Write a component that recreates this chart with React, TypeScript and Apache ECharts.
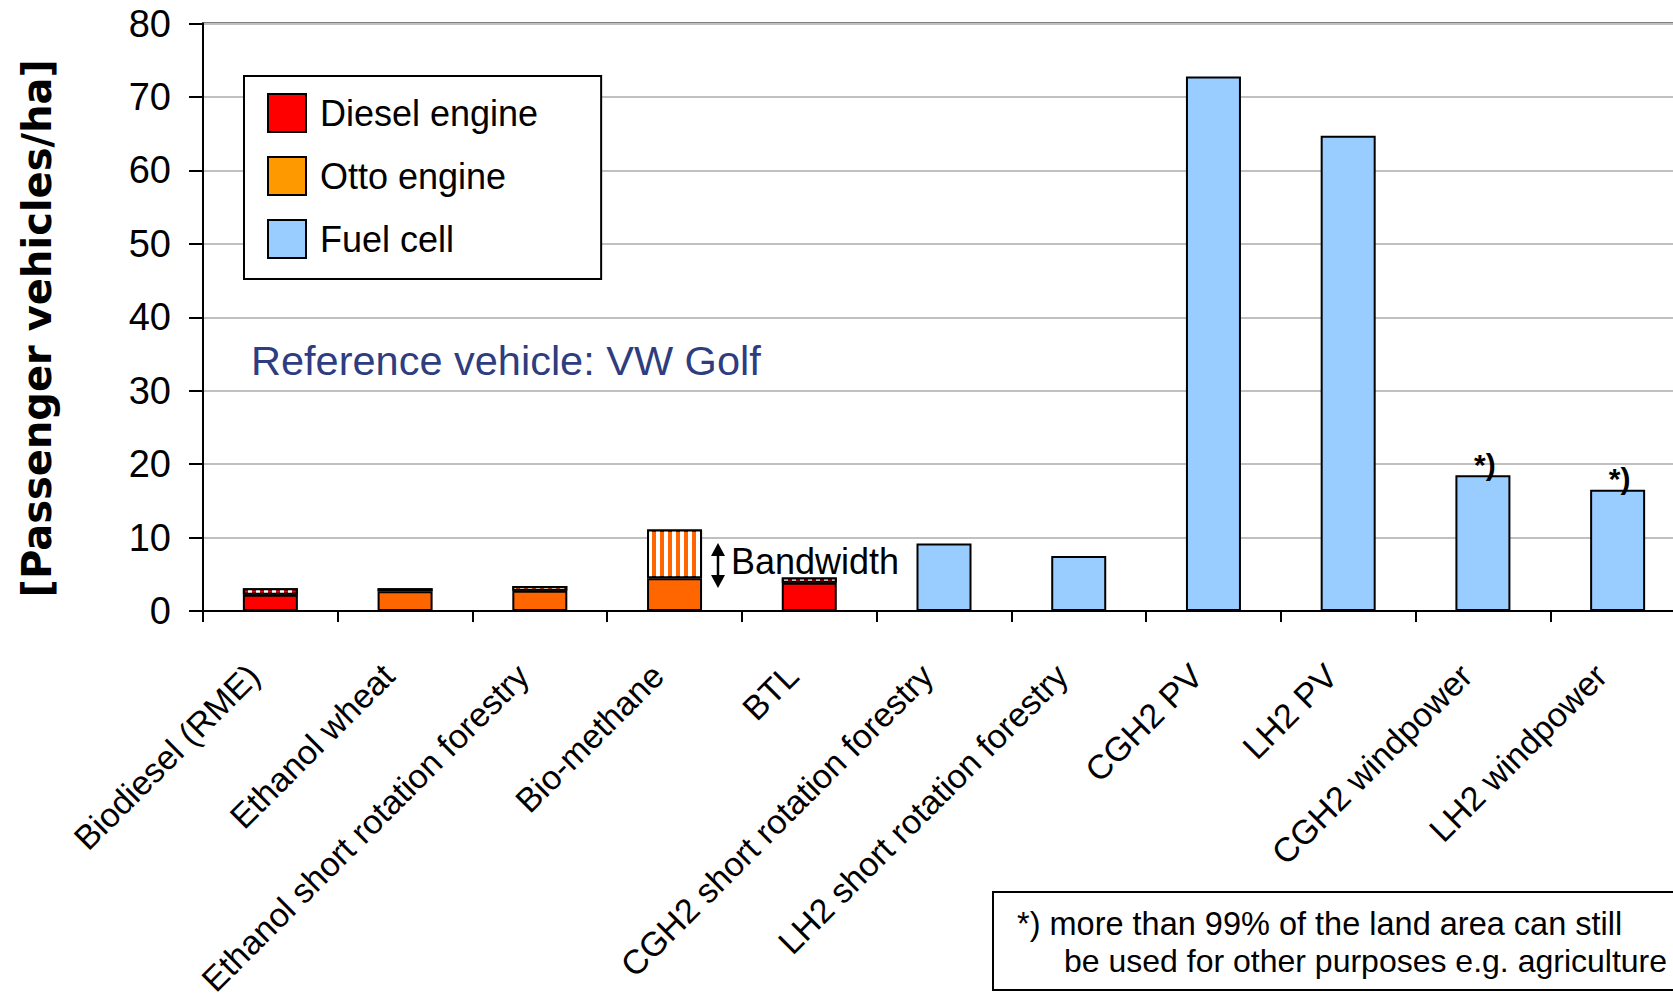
import React, { useEffect, useRef } from "react";
import * as echarts from "echarts";

const categories = [
  "Biodiesel (RME)",
  "Ethanol wheat",
  "Ethanol short rotation forestry",
  "Bio-methane",
  "BTL",
  "CGH2 short rotation forestry",
  "LH2 short rotation forestry",
  "CGH2 PV",
  "LH2 PV",
  "CGH2 windpower",
  "LH2 windpower",
];

const dieselBase = [2.2, null, null, null, 3.85, null, null, null, null, null, null];
const ottoBase = [null, 2.7, 2.75, 4.45, null, null, null, null, null, null, null];
const fuelCell = [null, null, null, null, null, 9.2, 7.5, 72.8, 64.7, 18.5, 16.5];
const dieselBand = [0.9, null, null, null, 0.7, null, null, null, null, null, null];
const ottoBand = [null, 0.4, 0.65, 6.65, null, null, null, null, null, null, null];
const footnoteIdx = [9, 10];

const yTicks = { min: 0, max: 80, interval: 10 };

const FONT = "'Liberation Sans', Arial, sans-serif";

export default function App() {
  const ref = useRef<HTMLDivElement>(null);
  useEffect(() => {
    document.body.style.margin = "0";
    if (!ref.current) return;
    const chart = echarts.init(ref.current, undefined, { renderer: "svg" });
    const border = { borderColor: "#000", borderWidth: 2 };
    const stripe = {
      symbol: "rect",
      symbolSize: 1,
      dashArrayX: [3.5, 3.5],
      dashArrayY: [10, 0],
      color: "#ffffff",
      rotation: 0,
    };
    const fuelData = fuelCell.map((v, i) =>
      footnoteIdx.includes(i)
        ? {
            value: v,
            label: {
              show: true,
              formatter: "*)",
              position: "top",
              distance: 0,
              offset: [2, 4],
              fontSize: 30,
              fontWeight: "bold",
              color: "#000",
              fontFamily: FONT,
            },
          }
        : v
    );
    const option: any = {
      animation: false,
      backgroundColor: "#fff",
      grid: {
        left: 203,
        top: 23.5,
        right: -12,
        bottom: 391,
        show: true,
        borderColor: "#000",
        borderWidth: 2,
        backgroundColor: "transparent",
        containLabel: false,
        outerBoundsMode: "none",
      },
      legend: {
        data: [
          { name: "Diesel engine", itemStyle: { color: "#FF0000", ...border } },
          { name: "Otto engine", itemStyle: { color: "#FF9900", ...border } },
          { name: "Fuel cell", itemStyle: { color: "#99CCFF", ...border } },
        ],
        orient: "vertical",
        left: 244,
        top: 76,
        itemWidth: 38,
        itemHeight: 38,
        itemGap: 23,
        padding: [17, 63, 20, 23],
        borderColor: "#000",
        borderWidth: 2,
        backgroundColor: "#fff",
        icon: "rect",
        selectedMode: false,
        textStyle: { fontSize: 36, color: "#000", fontFamily: FONT, padding: [0, 0, 0, 9] },
      },
      xAxis: {
        type: "category",
        data: categories,
        axisLine: { lineStyle: { color: "#000", width: 2 } },
        axisTick: { show: true, length: 11, interval: 0, lineStyle: { color: "#000", width: 2 } },
        axisLabel: {
          rotate: 45,
          interval: 0,
          fontSize: 34,
          margin: 42,
          padding: [0, 24, 0, 0],
          color: "#000",
          fontFamily: FONT,
        },
        splitLine: { show: false },
      },
      yAxis: {
        type: "value",
        min: yTicks.min,
        max: yTicks.max,
        interval: yTicks.interval,
        axisLine: { show: true, lineStyle: { color: "#000", width: 2 } },
        axisTick: { show: true, length: 14, lineStyle: { color: "#000", width: 2 } },
        axisLabel: { fontSize: 38, color: "#000", margin: 32, fontFamily: FONT },
        splitLine: { lineStyle: { color: "#C0C0C0", width: 2 } },
        name: "[Passenger vehicles/ha]",
        nameLocation: "middle",
        nameGap: 146,
        nameTextStyle: {
          fontSize: 40,
          fontWeight: "bold",
          fontFamily: "'DejaVu Sans', sans-serif",
          color: "#000",
          padding: [0, 22, 0, 0],
        },
      },
      series: [
        { name: "Diesel engine", type: "bar", stack: "a", barWidth: 55, data: dieselBase, itemStyle: { color: "#FF0000", ...border } },
        { name: "Otto engine", type: "bar", stack: "a", barWidth: 55, data: ottoBase, itemStyle: { color: "#FF6600", ...border } },
        { name: "Fuel cell", type: "bar", stack: "a", barWidth: 55, data: fuelData, itemStyle: { color: "#99CCFF", ...border } },
        { name: "Diesel bandwidth", type: "bar", stack: "a", barWidth: 55, data: dieselBand, itemStyle: { color: "#FF0000", ...border, decal: stripe } },
        { name: "Otto bandwidth", type: "bar", stack: "a", barWidth: 55, data: ottoBand, itemStyle: { color: "#FF6600", ...border, decal: stripe } },
      ],
      graphic: [
        {
          type: "text",
          left: 251,
          top: 339,
          style: { text: "Reference vehicle: VW Golf", fontSize: 41.5, fill: "#2E3D7F", fontFamily: FONT },
        },
        {
          type: "text",
          x: 731,
          y: 561,
          style: { text: "Bandwidth", fontSize: 36, fill: "#000", fontFamily: FONT, verticalAlign: "middle" },
        },
        { type: "line", shape: { x1: 718, y1: 552, x2: 718, y2: 579 }, style: { stroke: "#000", lineWidth: 2.5 } },
        { type: "polygon", shape: { points: [[711, 556], [718, 543], [725, 556]] }, style: { fill: "#000" } },
        { type: "polygon", shape: { points: [[711, 575], [718, 588], [725, 575]] }, style: { fill: "#000" } },
        {
          type: "rect",
          shape: { x: 993, y: 892, width: 720, height: 98 },
          style: { fill: "#fff", stroke: "#000", lineWidth: 2 },
        },
        {
          type: "text",
          x: 1017,
          y: 924,
          style: { text: "*) more than 99% of the land area can still", fontSize: 32.5, fill: "#000", fontFamily: FONT, verticalAlign: "middle" },
        },
        {
          type: "text",
          x: 1064,
          y: 961,
          style: { text: "be used for other purposes e.g. agriculture", fontSize: 32, fill: "#000", fontFamily: FONT, verticalAlign: "middle" },
        },
      ],
    };
    chart.setOption(option);
    return () => chart.dispose();
  }, []);
  return <div ref={ref} style={{ width: 1673, height: 1002 }} />;
}
